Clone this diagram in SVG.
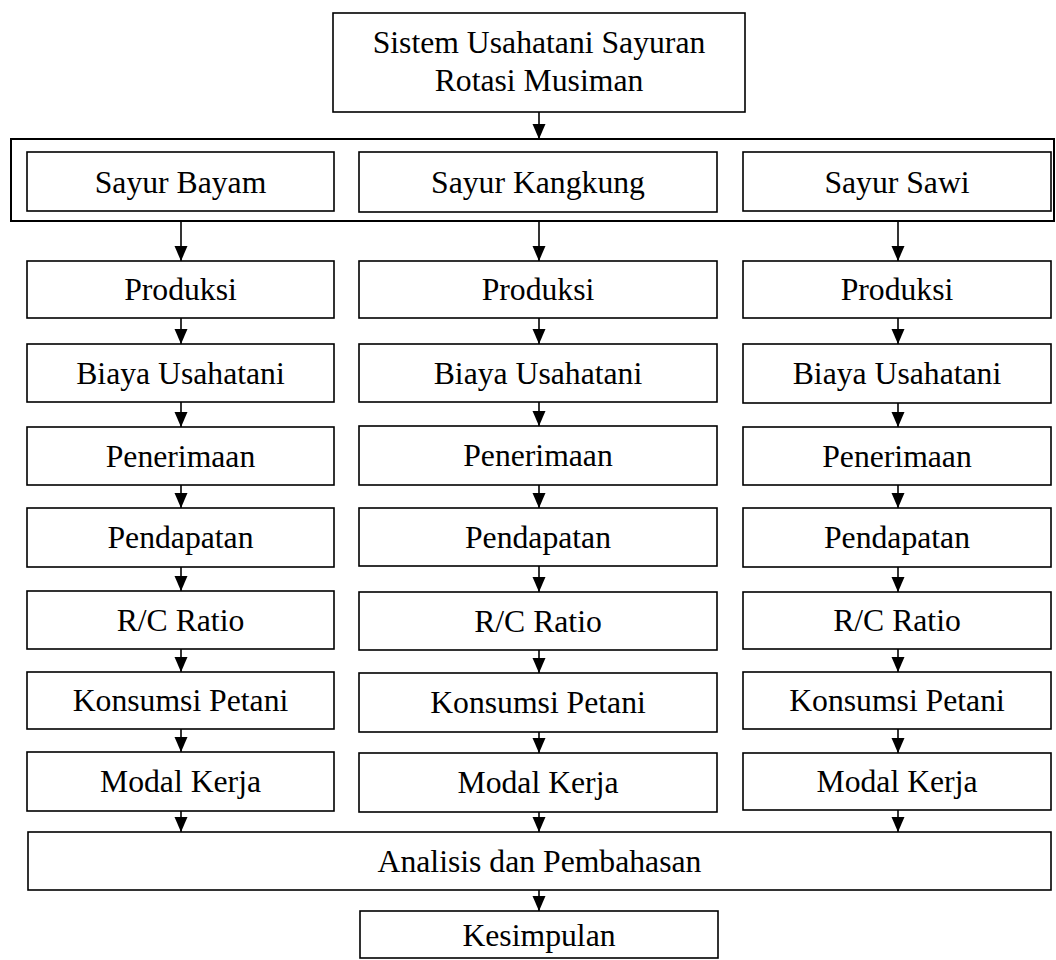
<svg xmlns="http://www.w3.org/2000/svg" width="1056" height="960" viewBox="0 0 1056 960">
<style>
.box{fill:#fff;stroke:#000;stroke-width:1.6}
.frame{fill:none;stroke:#000;stroke-width:2}
.t{font-family:"Liberation Serif","Times New Roman",serif;font-size:31.7px;fill:#000;text-anchor:middle}
.c{stroke:#000;stroke-width:1.6;fill:none;marker-end:url(#ah)}
</style>
<defs>
<marker id="ah" markerUnits="userSpaceOnUse" markerWidth="16" markerHeight="14" refX="15" refY="7" orient="auto" viewBox="0 0 16 14">
<path d="M0,0.5 L15,7 L0,13.5 z" fill="#000"/>
</marker>
</defs>
<rect width="1056" height="960" fill="#fff"/>

<g id="top">
<rect class="box" x="333" y="13" width="412" height="99"/>
<text class="t" x="539" y="53">Sistem Usahatani Sayuran</text>
<text class="t" x="539" y="91">Rotasi Musiman</text>
</g>

<g id="frame">
<rect class="frame" x="11" y="139" width="1043" height="82"/>
</g>

<g id="bayam"><rect class="box" x="27" y="152" width="307" height="59"/><text class="t" x="180.5" y="192.5">Sayur Bayam</text></g>
<g id="kangkung"><rect class="box" x="359" y="152" width="358" height="60"/><text class="t" x="538" y="193">Sayur Kangkung</text></g>
<g id="sawi"><rect class="box" x="743" y="152" width="308" height="59"/><text class="t" x="897" y="192.5">Sayur Sawi</text></g>

<g id="col1">
<g id="l-produksi"><rect class="box" x="27" y="261" width="307" height="57"/><text class="t" x="180.5" y="300">Produksi</text></g>
<g id="l-biaya"><rect class="box" x="27" y="344" width="307" height="58"/><text class="t" x="180.5" y="383.5">Biaya Usahatani</text></g>
<g id="l-penerimaan"><rect class="box" x="27" y="427" width="307" height="58"/><text class="t" x="180.5" y="466.5">Penerimaan</text></g>
<g id="l-pendapatan"><rect class="box" x="27" y="508" width="307" height="59"/><text class="t" x="180.5" y="548">Pendapatan</text></g>
<g id="l-rc"><rect class="box" x="27" y="591" width="307" height="58"/><text class="t" x="180.5" y="630.5">R/C Ratio</text></g>
<g id="l-konsumsi"><rect class="box" x="27" y="672" width="307" height="57"/><text class="t" x="180.5" y="711">Konsumsi Petani</text></g>
<g id="l-modal"><rect class="box" x="27" y="752" width="307" height="59"/><text class="t" x="180.5" y="792">Modal Kerja</text></g>
</g>

<g id="col2">
<g id="m-produksi"><rect class="box" x="359" y="261" width="358" height="57"/><text class="t" x="538" y="300">Produksi</text></g>
<g id="m-biaya"><rect class="box" x="359" y="344" width="358" height="58"/><text class="t" x="538" y="383.5">Biaya Usahatani</text></g>
<g id="m-penerimaan"><rect class="box" x="359" y="426" width="358" height="59"/><text class="t" x="538" y="466">Penerimaan</text></g>
<g id="m-pendapatan"><rect class="box" x="359" y="508" width="358" height="58"/><text class="t" x="538" y="547.5">Pendapatan</text></g>
<g id="m-rc"><rect class="box" x="359" y="592" width="358" height="58"/><text class="t" x="538" y="631.5">R/C Ratio</text></g>
<g id="m-konsumsi"><rect class="box" x="359" y="673" width="358" height="59"/><text class="t" x="538" y="713">Konsumsi Petani</text></g>
<g id="m-modal"><rect class="box" x="359" y="753" width="358" height="59"/><text class="t" x="538" y="793">Modal Kerja</text></g>
</g>

<g id="col3">
<g id="r-produksi"><rect class="box" x="743" y="261" width="308" height="57"/><text class="t" x="897" y="300">Produksi</text></g>
<g id="r-biaya"><rect class="box" x="743" y="344" width="308" height="59"/><text class="t" x="897" y="384">Biaya Usahatani</text></g>
<g id="r-penerimaan"><rect class="box" x="743" y="427" width="308" height="58"/><text class="t" x="897" y="466.5">Penerimaan</text></g>
<g id="r-pendapatan"><rect class="box" x="743" y="508" width="308" height="59"/><text class="t" x="897" y="548">Pendapatan</text></g>
<g id="r-rc"><rect class="box" x="743" y="592" width="308" height="57"/><text class="t" x="897" y="631">R/C Ratio</text></g>
<g id="r-konsumsi"><rect class="box" x="743" y="672" width="308" height="57"/><text class="t" x="897" y="711">Konsumsi Petani</text></g>
<g id="r-modal"><rect class="box" x="743" y="753" width="308" height="57"/><text class="t" x="897" y="792">Modal Kerja</text></g>
</g>

<g id="analisis"><rect class="box" x="28" y="832" width="1023" height="58"/><text class="t" x="539.5" y="871.5">Analisis dan Pembahasan</text></g>
<g id="kesimpulan"><rect class="box" x="360" y="911" width="358" height="47"/><text class="t" x="539" y="946">Kesimpulan</text></g>

<g id="connectors">
<path class="c" d="M539,112 V139"/>
<path class="c" d="M181,222 V261"/>
<path class="c" d="M539,222 V261"/>
<path class="c" d="M898,222 V261"/>

<path class="c" d="M181,318 V344"/>
<path class="c" d="M181,402 V427"/>
<path class="c" d="M181,485 V508"/>
<path class="c" d="M181,567 V591"/>
<path class="c" d="M181,649 V672"/>
<path class="c" d="M181,729 V752"/>
<path class="c" d="M181,811 V832"/>

<path class="c" d="M539,318 V344"/>
<path class="c" d="M539,402 V426"/>
<path class="c" d="M539,485 V508"/>
<path class="c" d="M539,566 V592"/>
<path class="c" d="M539,650 V673"/>
<path class="c" d="M539,732 V753"/>
<path class="c" d="M539,812 V832"/>

<path class="c" d="M898,318 V344"/>
<path class="c" d="M898,403 V427"/>
<path class="c" d="M898,485 V508"/>
<path class="c" d="M898,567 V592"/>
<path class="c" d="M898,649 V672"/>
<path class="c" d="M898,729 V753"/>
<path class="c" d="M898,810 V832"/>

<path class="c" d="M539,890 V911"/>
</g>
</svg>
